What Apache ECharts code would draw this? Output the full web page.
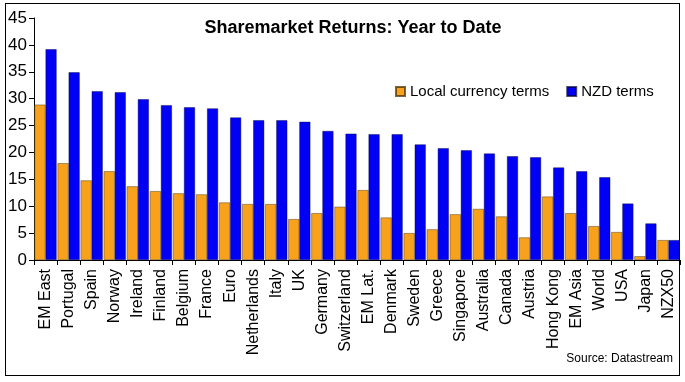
<!DOCTYPE html>
<html>
<head>
<meta charset="utf-8">
<script src="https://cdn.jsdelivr.net/npm/echarts@6/dist/echarts.min.js"></script>
<style>
html,body{margin:0;padding:0;background:#fff;}
#frame{position:absolute;left:5px;top:3px;width:675px;height:373px;border:1px solid #000;box-sizing:border-box;}
#chart{position:absolute;left:0;top:0;width:685px;height:382px;}
</style>
</head>
<body>
<div id="frame"></div>
<div id="chart"></div>
<script>
const categories = ['EM East','Portugal','Spain','Norway','Ireland','Finland','Belgium','France','Euro','Netherlands','Italy','UK','Germany','Switzerland','EM Lat.','Denmark','Sweden','Greece','Singapore','Australia','Canada','Austria','Hong Kong','EM Asia','World','USA','Japan','NZX50'];
const localCurrency = [28.9,18.0,14.8,16.5,13.7,12.8,12.4,12.2,10.7,10.4,10.4,7.6,8.7,9.9,13.0,7.9,5.0,5.7,8.5,9.5,8.1,4.2,11.8,8.7,6.3,5.2,0.7,3.7];
const nzdTerms = [39.2,34.9,31.4,31.2,29.9,28.8,28.4,28.2,26.5,26.0,26.0,25.7,24.0,23.5,23.4,23.4,21.5,20.8,20.4,19.8,19.3,19.1,17.2,16.5,15.4,10.5,6.8,3.7];
const yTicks = [0,5,10,15,20,25,30,35,40,45];
const seriesNames = ['Local currency terms','NZD terms'];

const chart = echarts.init(document.getElementById('chart'));
const font = 'Liberation Sans, Arial, sans-serif';
chart.setOption({
  animation: false,
  backgroundColor: 'transparent',
  title: {
    text: 'Sharemarket Returns: Year to Date',
    left: 348, top: 14, textAlign: 'center',
    textStyle: {fontFamily: font, fontSize: 18, fontWeight: 'bold', color: '#000'}
  },
  legend: {
    data: seriesNames,
    left: 390, top: 79,
    icon: 'rect', itemWidth: 9, itemHeight: 9, itemGap: 17,
    textStyle: {fontFamily: font, fontSize: 15, color: '#000'}
  },
  graphic: [{
    type: 'text', right: 12, top: 353,
    style: {text: 'Source: Datastream', font: '12px Liberation Sans, Arial, sans-serif', fill: '#000'}
  }],
  grid: {left: 34, right: 5, top: 18, bottom: 122, containLabel: false},
  xAxis: {
    type: 'category', data: categories,
    axisLine: {lineStyle: {color: '#000', width: 1}},
    axisTick: {show: true, length: 5, lineStyle: {color: '#000'}},
    axisLabel: {rotate: 90, interval: 0, margin: 9, fontFamily: font, fontSize: 16, color: '#000'}
  },
  yAxis: {
    type: 'value', min: yTicks[0], max: yTicks[yTicks.length-1], interval: 5,
    splitLine: {show: false},
    axisLine: {show: true, lineStyle: {color: '#000', width: 1}},
    axisTick: {show: true, length: 5, lineStyle: {color: '#000'}},
    axisLabel: {margin: 7, fontFamily: font, fontSize: 17, color: '#000'}
  },
  series: [
    {name: seriesNames[0], type: 'bar', data: localCurrency, barGap: '0%', barCategoryGap: '4%',
     itemStyle: {color: '#f7a11c', borderColor: 'rgba(60,40,0,0.7)', borderWidth: 0.6}},
    {name: seriesNames[1], type: 'bar', data: nzdTerms,
     itemStyle: {color: '#0000f5', borderColor: 'rgba(0,0,60,0.7)', borderWidth: 0.6}}
  ]
});
</script>
</body>
</html>
